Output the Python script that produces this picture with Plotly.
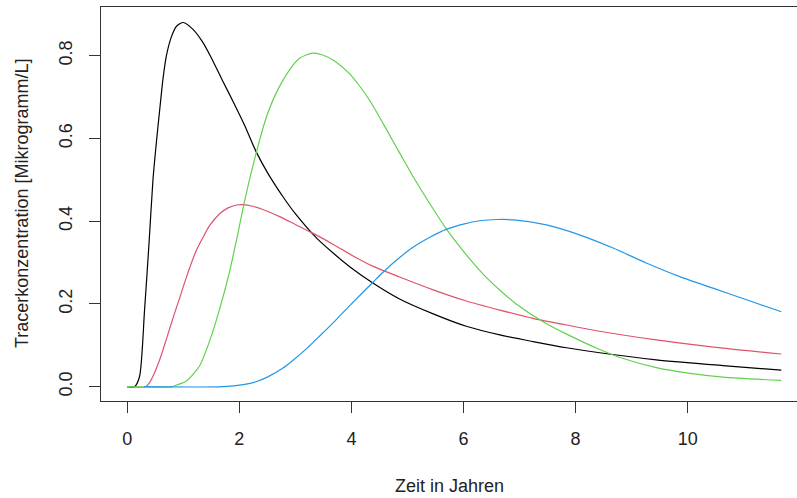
import plotly.graph_objects as go

# Tracer breakthrough curves (concentration over time), four model runs
t_black = [0, 0.13, 0.22, 0.31, 0.39, 0.46, 0.52, 0.58, 0.64, 0.70, 0.79, 0.88, 1.00,
           1.17, 1.35, 1.50, 1.70, 1.90, 2.10, 2.30, 2.50, 2.78, 3.00, 3.38, 3.70, 3.97,
           4.39, 4.86, 5.46, 6.05, 6.65, 7.24, 7.84, 8.43, 9.44, 10.63, 11.67]
c_black = [0, 0, 0.024, 0.185, 0.347, 0.500, 0.589, 0.669, 0.745, 0.800, 0.846, 0.871, 0.880,
           0.864, 0.832, 0.795, 0.740, 0.686, 0.630, 0.568, 0.518, 0.459, 0.418, 0.359, 0.320,
           0.290, 0.250, 0.212, 0.176, 0.146, 0.125, 0.109, 0.094, 0.082, 0.065, 0.051, 0.040]

t_red = [0, 0.33, 0.40, 0.46, 0.58, 0.70, 0.82, 0.95, 1.06, 1.23, 1.35, 1.47, 1.65, 1.80,
         1.95, 2.07, 2.24, 2.50, 2.72, 3.00, 3.31, 3.70, 4.03, 4.40, 4.86, 5.46, 6.05, 6.65,
         7.24, 7.84, 8.43, 9.44, 10.63, 11.67]
c_red = [0, 0, 0.010, 0.025, 0.065, 0.115, 0.167, 0.220, 0.266, 0.328, 0.360, 0.389, 0.418, 0.432,
         0.439, 0.440, 0.436, 0.424, 0.411, 0.392, 0.371, 0.342, 0.316, 0.290, 0.265, 0.234, 0.207,
         0.185, 0.165, 0.149, 0.134, 0.113, 0.093, 0.079]

t_green = [0, 0.80, 0.88, 1.06, 1.29, 1.47, 1.65, 1.83, 1.95, 2.10, 2.30, 2.48, 2.66, 2.90,
           3.08, 3.31, 3.50, 3.70, 3.97, 4.15, 4.33, 4.62, 4.86, 5.10, 5.40, 5.69, 6.00, 6.35,
           6.65, 6.94, 7.42, 7.84, 8.43, 8.85, 9.44, 10.04, 10.63, 11.67]
c_green = [0, 0, 0.004, 0.014, 0.050, 0.110, 0.188, 0.280, 0.354, 0.452, 0.564, 0.650, 0.710, 0.766,
           0.794, 0.806, 0.801, 0.787, 0.756, 0.726, 0.691, 0.623, 0.565, 0.508, 0.442, 0.382, 0.327,
           0.272, 0.233, 0.200, 0.157, 0.127, 0.090, 0.068, 0.046, 0.032, 0.023, 0.015]

t_blue = [0.30, 1.71, 2.07, 2.30, 2.50, 2.78, 2.96, 3.20, 3.43, 3.70, 3.97, 4.39, 4.56, 4.86,
          5.10, 5.40, 5.69, 6.00, 6.29, 6.60, 6.90, 7.48, 8.07, 8.67, 9.26, 9.86, 10.45,
          11.05, 11.67]
c_blue = [0, 0, 0.005, 0.012, 0.023, 0.045, 0.064, 0.092, 0.122, 0.158, 0.196, 0.253, 0.276, 0.312,
          0.337, 0.361, 0.380, 0.393, 0.401, 0.404, 0.403, 0.391, 0.367, 0.335, 0.299, 0.266, 0.238,
          0.210, 0.181]

x_ticks = [0, 2, 4, 6, 8, 10]
y_ticks = [0.0, 0.2, 0.4, 0.6, 0.8]
y_tick_text = ["0.0", "0.2", "0.4", "0.6", "0.8"]

series = [
    (t_black, c_black, "#000000"),
    (t_red, c_red, "#DF536B"),
    (t_green, c_green, "#61D04F"),
    (t_blue, c_blue, "#2297E6"),
]

fig = go.Figure()
for t, c, col in series:
    fig.add_trace(go.Scatter(x=t, y=c, mode="lines",
                             line=dict(color=col, width=1.2, shape="spline", smoothing=0.7),
                             showlegend=False, hoverinfo="skip"))

font = dict(family="Liberation Sans, Arial, sans-serif", size=18, color="#222222")

fig.update_layout(
    width=797, height=498,
    margin=dict(l=101, r=0, t=7, b=97),
    paper_bgcolor="white", plot_bgcolor="white",
    font=font,
    xaxis=dict(range=[-0.467, 11.95], tickvals=x_ticks, ticks="outside", ticklen=11,
               tickcolor="#333333", tickwidth=1.2, showgrid=False, zeroline=False,
               showline=True, linecolor="#333333", linewidth=1.2, mirror=True,
               tickfont=font, ticklabelstandoff=10),
    yaxis=dict(range=[-0.0346, 0.9175], tickvals=y_ticks, ticktext=y_tick_text,
               ticks="outside", ticklen=11, tickcolor="#333333", tickwidth=1.2,
               showgrid=False, zeroline=False, showline=True, linecolor="#333333",
               linewidth=1.2, mirror=False, tickangle=-90, tickfont=font,
               ticklabelstandoff=10),
    annotations=[
        dict(text="Zeit in Jahren", xref="paper", yref="paper", x=0.5, y=-0.216,
             xanchor="center", yanchor="middle", showarrow=False, font=font),
        dict(text="Tracerkonzentration [Mikrogramm/L]", xref="paper", yref="paper",
             x=-0.1135, y=0.5, xanchor="center", yanchor="middle", textangle=-90,
             showarrow=False, font=font),
    ],
)

fig.write_html("out.html")
